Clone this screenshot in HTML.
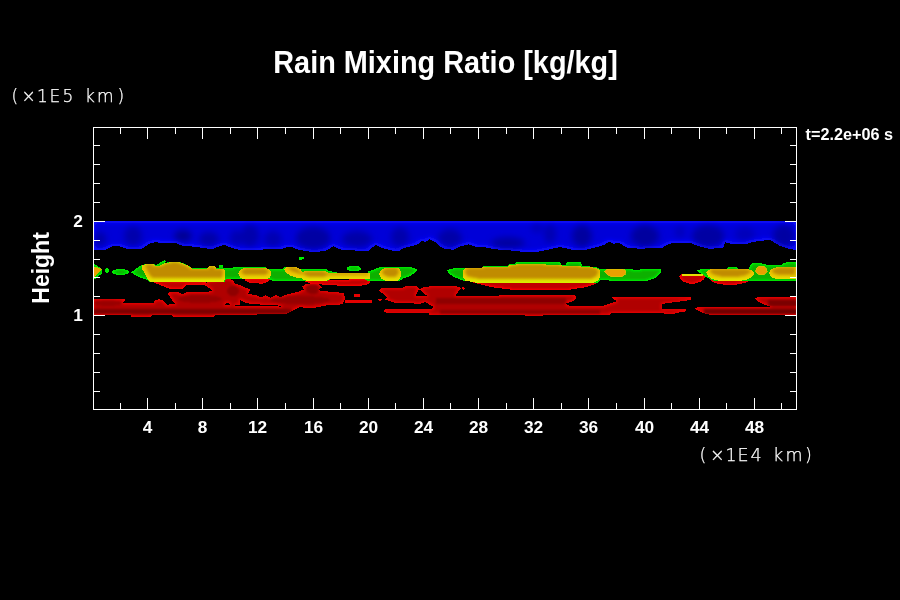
<!DOCTYPE html>
<html lang="en"><head><meta charset="utf-8"><title>Rain Mixing Ratio [kg/kg]</title>
<style>
html,body{margin:0;padding:0;background:#000;overflow:hidden}
svg{display:block}
text{font-family:"Liberation Sans",Arial,Helvetica,sans-serif;fill:#fff}
.b{font-weight:bold}
.h{font-family:"DejaVu Sans Light","DejaVu Sans","Liberation Sans",sans-serif;font-weight:200;fill:#fff;stroke:#fff;stroke-width:.25px}
</style></head><body>
<svg width="900" height="600" viewBox="0 0 900 600">
<defs>
<clipPath id="plot"><rect x="93" y="127" width="704" height="283"/></clipPath>
<clipPath id="cred"><polygon points="93,298.7 125.3,298.7 125.3,300.7 122,303 153.7,303 155,300.5 159,299.3 163,300 165.3,303 167,305 170,304 300.3,307 285.3,314.3 215.3,314.8 214,317 173,317 172,314.8 152,314.8 151,316.5 131,316.5 130.3,314.8 93,314.8"/>
<polygon points="167.8,294 169,292.3 178.7,292.3 183,294.3 187,292 208,292 212.7,290.4 203.8,284.6 208.4,281.4 225.5,278.5 226.5,277.5 233.3,280.7 235,283.8 239.5,285 245.8,287.7 250.8,290 247.3,293.9 244.9,294.5 248.5,293.9 255.9,295.1 260.8,297.6 265.7,295.1 270.6,297.6 275.5,295.1 280.3,297 285.2,295.1 291.3,293.3 297.5,292.1 303.6,289.6 302.3,286.6 306.6,283.5 318.2,283.5 321.9,287.2 318.2,290.2 325.6,291.4 337.8,292 340,293.3 343.9,292.7 345.1,298.8 342.7,304.3 325.6,305.5 313.3,308 298.7,307.3 281.6,306.7 275.5,304.9 252.2,304.3 244.9,302.4 240.3,300 240,305 230.2,305 228,302.4 224,305 176,305 172,300"/>
<polygon points="345,300 372,300 372,303 345,303"/>
<polygon points="353.7,294 360.3,294 360.3,296.5 353.7,296.5"/>
<polygon points="384.2,310.2 386,309.2 431,309.2 431,312.8 386,312.8 384.5,311.6"/>
<polygon points="378,299.5 380,298.3 382.5,299.5 380,301.1"/>
<polygon points="379.2,290.6 382,288 403,287.6 405.3,286.4 416.4,286.4 419.2,288.9 416.4,293.9 416,296.5 424,296.3 430,295.7 575.3,295.3 576,298 573,301 566,303.5 569,305.7 604,305.5 607.8,304.4 616.7,301.1 613,299 611.7,297.2 691,296.9 691,299.5 686,300.8 677.8,301.7 662,303.9 661.7,309.1 684.4,309 686.7,310 684.4,311.7 676.7,312.8 673.3,314.4 666.7,314.4 662,312.8 612,312.5 610,314.8 545,314.8 542,315.7 530,315.7 510,315 429,314.8 429,313 433.1,306.7 425.3,302.2 420.9,303.6 397.6,303.3 393.1,302.2 384.2,299.4 387.6,297.8"/>
<polygon points="419.5,289.5 424,287 430,286.4 456,286.4 459,287 460.9,288.3 458.5,291.5 456.4,294.4 455.5,296 428,296 424.2,293.9"/>
<polygon points="461.4,288.3 463,286.7 464.8,288.3 463,290"/>
<polygon points="754.5,298.7 758,297.2 797,297 797,306.5 770,306.5 764,304.5 758,301.5"/>
<polygon points="695,308.2 698,307.2 797,307 797,314.8 710,314.8 703,313 697,310"/></clipPath>
<clipPath id="cblue"><polygon points="93,220.8 797,220.8 797,250.7 792,249.3 787,248.2 780.3,246 775.3,243.2 770.3,239.8 762,240.7 752,242 745.3,244.3 730.3,243.7 725.3,242.3 722.8,248.2 708.7,248.7 703.7,247.3 697,245.7 692,243.5 673.7,242.7 667,244.8 662,248.2 657,247.7 650.3,248.2 642,248.7 628.7,248.2 623.7,245.7 618.7,242.7 613.7,243.7 609.5,241.5 605.3,244.3 598.7,246.5 592,248.2 585.3,249.8 572,249.8 565.3,248.2 560.3,247 552,248.7 547,250.3 542,250.6 537,252.3 525.3,252 508.7,250.3 495.3,249.3 485.3,247.3 475.3,246.5 468.7,244.3 460.3,246.5 453.7,249.8 445.3,249 438.7,245.7 434.5,241.5 429.5,239.3 425.3,242.3 422,240.7 417,244.8 410.3,246.5 403.7,248.2 398.7,251 392,250.5 387,249.3 380.3,247.3 375.3,244.8 373.7,246.5 368.7,250.7 358.7,250.7 342,249.8 337,248.2 333.3,246 330.3,248.2 325.3,250.7 317,252 308.7,251.5 297,249.3 292,247.3 287,247 282,249 263.7,249.3 260.3,250.3 242,250 237,249.3 230.3,247.3 223.7,244.8 218.7,246.5 212,249.3 205.3,248.2 192,246.5 182,245.7 175.3,242.7 168.7,243.2 155.3,242.3 150.3,243.2 145.3,246.5 140.3,249.3 127,249 120.3,246.5 113.7,245.7 108.7,248.2 103.7,250.3 93,250.3"/></clipPath>
<filter id="fblue" x="-2%" y="-20%" width="104%" height="140%">
<feMorphology in="SourceAlpha" operator="erode" radius="2" result="e"/>
<feGaussianBlur in="e" stdDeviation="2" result="b"/>
<feFlood flood-color="#0000d8"/><feComposite in2="b" operator="in" result="d"/>
<feComposite in="d" in2="SourceAlpha" operator="in" result="d2"/>
<feMerge><feMergeNode in="SourceGraphic"/><feMergeNode in="d2"/></feMerge>
</filter>
<filter id="fyel" x="-2%" y="-20%" width="104%" height="140%">
<feMorphology in="SourceAlpha" operator="erode" radius="2" result="e"/>
<feGaussianBlur in="e" stdDeviation="1.8" result="b0"/><feOffset in="b0" dy="-1.6" result="b"/>
<feFlood flood-color="#c08c00"/><feComposite in2="b" operator="in" result="d"/>
<feComposite in="d" in2="SourceAlpha" operator="in" result="d2"/>
<feMerge><feMergeNode in="SourceGraphic"/><feMergeNode in="d2"/></feMerge>
</filter>
<filter id="fred" x="-2%" y="-20%" width="104%" height="140%">
<feMorphology in="SourceAlpha" operator="erode" radius="1.2" result="e"/>
<feGaussianBlur in="e" stdDeviation="1.5" result="b"/>
<feFlood flood-color="#b00000"/><feComposite in2="b" operator="in" result="d"/>
<feComposite in="d" in2="SourceAlpha" operator="in" result="d2"/>
<feMerge><feMergeNode in="SourceGraphic"/><feMergeNode in="d2"/></feMerge>
</filter>
<filter id="fgrn" x="-2%" y="-20%" width="104%" height="140%">
<feMorphology in="SourceAlpha" operator="erode" radius="1" result="e"/>
<feGaussianBlur in="e" stdDeviation="1.3" result="b"/>
<feFlood flood-color="#08b000"/><feComposite in2="b" operator="in" result="d"/>
<feComposite in="d" in2="SourceAlpha" operator="in" result="d2"/>
<feMerge><feMergeNode in="SourceGraphic"/><feMergeNode in="d2"/></feMerge>
</filter>
<filter id="fredhi" x="-2%" y="-20%" width="104%" height="140%">
<feMorphology in="SourceAlpha" operator="erode" radius="1" result="e"/>
<feGaussianBlur in="e" stdDeviation="1.2" result="b"/>
<feFlood flood-color="#c00000"/><feComposite in2="b" operator="in" result="d"/>
<feComposite in="d" in2="SourceAlpha" operator="in" result="d2"/>
<feMerge><feMergeNode in="SourceGraphic"/><feMergeNode in="d2"/></feMerge>
</filter>
<linearGradient id="gy" gradientUnits="userSpaceOnUse" x1="0" y1="262" x2="0" y2="283">
<stop offset="0" stop-color="#d8e000"/><stop offset="0.35" stop-color="#f0bc00"/><stop offset="0.7" stop-color="#e8d000"/><stop offset="0.9" stop-color="#e0e800"/><stop offset="1" stop-color="#d0f400"/>
</linearGradient>
<filter id="blur1"><feGaussianBlur stdDeviation="1.2"/></filter>
<filter id="blur3"><feGaussianBlur stdDeviation="3"/></filter>
</defs>
<rect width="900" height="600" fill="#000"/>
<g clip-path="url(#plot)" shape-rendering="crispEdges">
<g fill="#1414ff" filter="url(#fblue)"><polygon points="93,220.8 797,220.8 797,250.7 792,249.3 787,248.2 780.3,246 775.3,243.2 770.3,239.8 762,240.7 752,242 745.3,244.3 730.3,243.7 725.3,242.3 722.8,248.2 708.7,248.7 703.7,247.3 697,245.7 692,243.5 673.7,242.7 667,244.8 662,248.2 657,247.7 650.3,248.2 642,248.7 628.7,248.2 623.7,245.7 618.7,242.7 613.7,243.7 609.5,241.5 605.3,244.3 598.7,246.5 592,248.2 585.3,249.8 572,249.8 565.3,248.2 560.3,247 552,248.7 547,250.3 542,250.6 537,252.3 525.3,252 508.7,250.3 495.3,249.3 485.3,247.3 475.3,246.5 468.7,244.3 460.3,246.5 453.7,249.8 445.3,249 438.7,245.7 434.5,241.5 429.5,239.3 425.3,242.3 422,240.7 417,244.8 410.3,246.5 403.7,248.2 398.7,251 392,250.5 387,249.3 380.3,247.3 375.3,244.8 373.7,246.5 368.7,250.7 358.7,250.7 342,249.8 337,248.2 333.3,246 330.3,248.2 325.3,250.7 317,252 308.7,251.5 297,249.3 292,247.3 287,247 282,249 263.7,249.3 260.3,250.3 242,250 237,249.3 230.3,247.3 223.7,244.8 218.7,246.5 212,249.3 205.3,248.2 192,246.5 182,245.7 175.3,242.7 168.7,243.2 155.3,242.3 150.3,243.2 145.3,246.5 140.3,249.3 127,249 120.3,246.5 113.7,245.7 108.7,248.2 103.7,250.3 93,250.3"/></g>
<g clip-path="url(#cblue)"><g filter="url(#blur3)" fill="#000078">
<ellipse cx="100" cy="239" rx="6" ry="7" opacity="0.5"/><ellipse cx="133" cy="236" rx="9" ry="10" opacity="0.45"/><ellipse cx="183" cy="236" rx="9" ry="6" opacity="0.7"/><ellipse cx="209" cy="239" rx="10" ry="7" opacity="0.5"/><ellipse cx="236" cy="238" rx="6" ry="8" opacity="0.4"/><ellipse cx="250" cy="236" rx="9" ry="11" opacity="0.45"/><ellipse cx="273" cy="239" rx="9" ry="8" opacity="0.4"/><ellipse cx="313" cy="238" rx="17" ry="11" opacity="0.55"/><ellipse cx="357" cy="239" rx="15" ry="8" opacity="0.5"/><ellipse cx="400" cy="237" rx="9" ry="10" opacity="0.45"/><ellipse cx="450" cy="238" rx="12" ry="9" opacity="0.5"/><ellipse cx="508" cy="243" rx="17" ry="6" opacity="0.55"/><ellipse cx="537" cy="228" rx="6" ry="5" opacity="0.3"/><ellipse cx="550" cy="234" rx="6" ry="10" opacity="0.4"/><ellipse cx="582" cy="236" rx="10" ry="11" opacity="0.6"/><ellipse cx="645" cy="236" rx="14" ry="11" opacity="0.6"/><ellipse cx="680" cy="232" rx="5" ry="6" opacity="0.3"/><ellipse cx="708" cy="236" rx="16" ry="11" opacity="0.55"/><ellipse cx="745" cy="234" rx="10" ry="7" opacity="0.3"/><ellipse cx="784" cy="236" rx="11" ry="11" opacity="0.55"/>
</g></g>
<g fill="#f00000" filter="url(#fred)">
<polygon points="93,298.7 125.3,298.7 125.3,300.7 122,303 153.7,303 155,300.5 159,299.3 163,300 165.3,303 167,305 170,304 300.3,307 285.3,314.3 215.3,314.8 214,317 173,317 172,314.8 152,314.8 151,316.5 131,316.5 130.3,314.8 93,314.8"/>
<polygon points="167.8,294 169,292.3 178.7,292.3 183,294.3 187,292 208,292 212.7,290.4 203.8,284.6 208.4,281.4 225.5,278.5 226.5,277.5 233.3,280.7 235,283.8 239.5,285 245.8,287.7 250.8,290 247.3,293.9 244.9,294.5 248.5,293.9 255.9,295.1 260.8,297.6 265.7,295.1 270.6,297.6 275.5,295.1 280.3,297 285.2,295.1 291.3,293.3 297.5,292.1 303.6,289.6 302.3,286.6 306.6,283.5 318.2,283.5 321.9,287.2 318.2,290.2 325.6,291.4 337.8,292 340,293.3 343.9,292.7 345.1,298.8 342.7,304.3 325.6,305.5 313.3,308 298.7,307.3 281.6,306.7 275.5,304.9 252.2,304.3 244.9,302.4 240.3,300 240,305 230.2,305 228,302.4 224,305 176,305 172,300"/>
<polygon points="345,300 372,300 372,303 345,303"/>
<polygon points="353.7,294 360.3,294 360.3,296.5 353.7,296.5"/>
<polygon points="384.2,310.2 386,309.2 431,309.2 431,312.8 386,312.8 384.5,311.6"/>
<polygon points="378,299.5 380,298.3 382.5,299.5 380,301.1"/>
<polygon points="379.2,290.6 382,288 403,287.6 405.3,286.4 416.4,286.4 419.2,288.9 416.4,293.9 416,296.5 424,296.3 430,295.7 575.3,295.3 576,298 573,301 566,303.5 569,305.7 604,305.5 607.8,304.4 616.7,301.1 613,299 611.7,297.2 691,296.9 691,299.5 686,300.8 677.8,301.7 662,303.9 661.7,309.1 684.4,309 686.7,310 684.4,311.7 676.7,312.8 673.3,314.4 666.7,314.4 662,312.8 612,312.5 610,314.8 545,314.8 542,315.7 530,315.7 510,315 429,314.8 429,313 433.1,306.7 425.3,302.2 420.9,303.6 397.6,303.3 393.1,302.2 384.2,299.4 387.6,297.8"/>
<polygon points="419.5,289.5 424,287 430,286.4 456,286.4 459,287 460.9,288.3 458.5,291.5 456.4,294.4 455.5,296 428,296 424.2,293.9"/>
<polygon points="461.4,288.3 463,286.7 464.8,288.3 463,290"/>
<polygon points="754.5,298.7 758,297.2 797,297 797,306.5 770,306.5 764,304.5 758,301.5"/>
<polygon points="695,308.2 698,307.2 797,307 797,314.8 710,314.8 703,313 697,310"/>
</g>
<g clip-path="url(#cred)"><g filter="url(#blur1)" fill="#6e0000">
<rect x="80" y="308.6" width="212" height="5" opacity=".75"/>
<rect x="704" y="308.8" width="110" height="5" opacity=".95"/>
<rect x="768" y="299.5" width="40" height="6.5" opacity=".8"/>
<rect x="436" y="297.5" width="130" height="6" opacity=".5"/>
<rect x="440" y="309.5" width="160" height="4" opacity=".55"/>
<ellipse cx="313" cy="289" rx="7" ry="5" opacity=".55"/>
<ellipse cx="300" cy="300" rx="30" ry="4" opacity=".4"/>
<ellipse cx="200" cy="299" rx="22" ry="4" opacity=".4"/>
<ellipse cx="233" cy="291" rx="6" ry="5" opacity=".5"/>
<ellipse cx="108" cy="303" rx="14" ry="3" opacity=".35"/>
</g></g>
<g fill="#ff0000" filter="url(#fredhi)">
<polygon points="150.3,281 208.4,281 203.8,284.6 187,284.8 182,289.5 168.7,288.5"/>
<polygon points="245,279 270.3,279 268,282 262,283.7 250,283 245,280.5"/>
<polygon points="305,280.5 370.3,279 370,283 366,285.2 355,286 338,286 334,284.5 322,284.5 310,283.5 305,281.5"/>
<polygon points="472,282.3 492,287.3 512,289.8 568.7,289.8 585.3,287.3 595.3,284 600.3,280.7 600,279 472,279"/>
<polygon points="708.5,277 752,277 750,280.5 745,283 736,284.6 724,284.6 716,283.3 711,281"/>
<polygon points="679,276.5 680.5,274.6 683,273.9 702,273.9 704,274.8 705,277 703.5,279.8 700,282 695,283.5 689,283.5 684,282 680.5,279.5"/>

</g>
<g fill="#00f400" filter="url(#fgrn)">
<polygon points="131.2,272.3 135,269.5 140.3,265.7 147,263.7 153,263.5 156.5,265.3 160,262.5 164.5,260.2 166.2,261.6 164,263.2 170,262 179.5,262 184,263.5 188.7,265.7 192,268 207,268.2 209,266 215,266 216.5,268.2 218.7,267.5 219,265.3 222.8,265.3 223.5,267.8 226,268.2 233,267.5 242,267.3 266,267.3 268,269 283,269 284.5,267.3 296,267.3 300,269 308,269 310,268.5 326,269 329,271 340,273 368,273 368,271.5 375,269 380,267.3 400,267.3 412,267.5 417,269 417,270.5 415,273 410,276 404,278 400,280.7 367,280.7 365,279.2 330,279.2 328,280.7 272,280.7 270,279.5 226,279 224.5,282 150.3,282 146,279.5 142,278.2 136,275.5"/>
<polygon points="447,270.7 449,269.2 455,268.2 462,267.7 482,267.7 483,266 508,266 509,264 515,264 516,262.3 560,262.3 561,264.5 566,264.5 567,262.3 581,262.3 582,266 590,266.5 597,267.5 600,269.3 632,269.3 636,270.5 640,269.5 655,269.2 661,269.5 661,272 659,274 655,278 648,280.7 610,280.7 601,279.5 598,282.5 478,283.2 470,281.5 463,280.7 455,277.5 450,274.5"/>
<polygon points="697,270.7 700,269.3 726,269 728,267.3 737,267.3 739,269 749,269 750,265 753,263.2 760,263 766,264.5 768,265.3 782,265.3 783,263.5 787,262.3 797,262.3 797,280.7 713.7,280.7 708,278 702,274.5"/>
<polygon points="93,264 95,264.2 97,265.5 99.5,267.5 102,269.3 102.2,273 100,275 97,277 95.5,279 93,279"/>
<polygon points="298.7,256.5 304,256.5 304,258.5 302,258.5 302,259.8 299.5,259.8"/>
<ellipse cx="107" cy="270.5" rx="2.1" ry="2.4"/>
<ellipse cx="120.6" cy="272" rx="8.4" ry="3"/>
<ellipse cx="354" cy="268.6" rx="7" ry="2.9"/>
</g>
<g fill="url(#gy)" filter="url(#fyel)">
<polygon points="141.5,265 147,264.3 153.5,264.5 157,266.5 161,265 164,263.3 170,262.3 179.5,262.3 184,263.8 188.7,266 192,268.5 207,268.7 209,266.3 215,266.3 216.5,268.7 224,269 225.3,271 225.5,277 224,281.8 150.5,281.8 147,278 144,272 141.5,268"/>
<polygon points="238.5,273.5 240,270 244,267.7 266,267.7 270,270 271.5,273.5 270,277.5 266,279.3 244,279.3 240,277.5"/>
<polygon points="284,269.5 286,267.5 297,267.3 300.5,269 302,272 302,277.6 296,277.6 290,275.5 286,272.5"/>
<polygon points="300,276 302,272.5 306,270.8 325,270.8 328.7,273 370,273.3 370.3,279 330,279 327,280.7 306,280.7 302,279"/>
<polygon points="379,274 381,270 385,267.8 396,267.5 400,269 401,273 400.3,278 398,280.7 385,280.7 381,278.5"/>
<polygon points="463,270 465,268.5 482,268.3 483,266.5 508,266.5 510,265 516,264.5 518,264 542,264.3 560,265.3 567,266 581,266.5 590,267 597,268.2 600.3,271 600.5,277 598,280.5 594,282.5 590,283.2 478.7,283.2 470,281.5 465.3,280.7 462.5,276"/>
<polygon points="769,273 771,269.5 776,267.3 797,267 797,279 776,279 771,277"/>
<polygon points="706,272.2 708,270 711,269.2 747,269.2 751,270 753.5,271.5 754,274 752,277 748,279.3 742,280.6 730,281 718,280.6 712,279 708.5,276.5"/>

</g>
<rect x="682" y="273.8" width="21" height="1.7" fill="#e4e000"/>
<g fill="#e8a000" stroke="#d8c000" stroke-width="0.8">
<polygon points="93,267.2 94.5,267.3 101.3,269.3 94.5,276.6 93,276.8"/>
<polygon points="604.2,271.7 607,269.5 612,269.2 622,269.2 625,270 626,272 625,274.5 622,276.5 612,276.8 608,275 606,273.5"/>
<ellipse cx="761.4" cy="270.5" rx="5.6" ry="4.4"/>
</g>
</g>
<rect x="93.5" y="127.5" width="703" height="282" fill="none" stroke="#fff" stroke-width="1" shape-rendering="crispEdges"/>
<path d="M120.5 409V403M120.5 128V134 M147.5 409V398M147.5 128V139 M175.5 409V403M175.5 128V134 M202.5 409V398M202.5 128V139 M230.5 409V403M230.5 128V134 M257.5 409V398M257.5 128V139 M285.5 409V403M285.5 128V134 M313.5 409V398M313.5 128V139 M340.5 409V403M340.5 128V134 M368.5 409V398M368.5 128V139 M395.5 409V403M395.5 128V134 M423.5 409V398M423.5 128V139 M450.5 409V403M450.5 128V134 M478.5 409V398M478.5 128V139 M506.5 409V403M506.5 128V134 M533.5 409V398M533.5 128V139 M561.5 409V403M561.5 128V134 M588.5 409V398M588.5 128V139 M616.5 409V403M616.5 128V134 M644.5 409V398M644.5 128V139 M671.5 409V403M671.5 128V134 M699.5 409V398M699.5 128V139 M726.5 409V403M726.5 128V134 M754.5 409V398M754.5 128V139 M781.5 409V403M781.5 128V134 M94 145.5H100M796 145.5H790 M94 164.5H100M796 164.5H790 M94 183.5H100M796 183.5H790 M94 202.5H100M796 202.5H790 M94 240.5H100M796 240.5H790 M94 259.5H100M796 259.5H790 M94 277.5H100M796 277.5H790 M94 296.5H100M796 296.5H790 M94 334.5H100M796 334.5H790 M94 353.5H100M796 353.5H790 M94 372.5H100M796 372.5H790 M94 391.5H100M796 391.5H790 M94 221.5H105M796 221.5H785 M94 315.5H105M796 315.5H785" stroke="#fff" stroke-width="1" fill="none" shape-rendering="crispEdges"/>
<text class="b" x="273.3" y="73" font-size="31" textLength="344.5" lengthAdjust="spacingAndGlyphs">Rain Mixing Ratio [kg/kg]</text>
<text class="b" transform="translate(49 303.7) rotate(-90)" font-size="24.5" textLength="71.5" lengthAdjust="spacingAndGlyphs">Height</text>
<g class="b" font-size="16" text-anchor="middle">
<text x="147.5" y="433" textLength="9.6" lengthAdjust="spacingAndGlyphs">4</text>
<text x="202.5" y="433" textLength="9.6" lengthAdjust="spacingAndGlyphs">8</text>
<text x="257.5" y="433" textLength="19.2" lengthAdjust="spacingAndGlyphs">12</text>
<text x="313.5" y="433" textLength="19.2" lengthAdjust="spacingAndGlyphs">16</text>
<text x="368.5" y="433" textLength="19.2" lengthAdjust="spacingAndGlyphs">20</text>
<text x="423.5" y="433" textLength="19.2" lengthAdjust="spacingAndGlyphs">24</text>
<text x="478.5" y="433" textLength="19.2" lengthAdjust="spacingAndGlyphs">28</text>
<text x="533.5" y="433" textLength="19.2" lengthAdjust="spacingAndGlyphs">32</text>
<text x="588.5" y="433" textLength="19.2" lengthAdjust="spacingAndGlyphs">36</text>
<text x="644.5" y="433" textLength="19.2" lengthAdjust="spacingAndGlyphs">40</text>
<text x="699.5" y="433" textLength="19.2" lengthAdjust="spacingAndGlyphs">44</text>
<text x="754.5" y="433" textLength="19.2" lengthAdjust="spacingAndGlyphs">48</text>
</g>
<g class="b" font-size="16" text-anchor="end">
<text x="82.8" y="226.8" textLength="9.6" lengthAdjust="spacingAndGlyphs">2</text>
<text x="82.8" y="320.8" textLength="9.6" lengthAdjust="spacingAndGlyphs">1</text>
</g>
<text class="b" x="805.6" y="139.8" font-size="16" textLength="87.5" lengthAdjust="spacingAndGlyphs">t=2.2e+06 s</text>
<text class="h" y="101.7" font-size="17" x="11.5 21.5 37 49.5 62.5 75 85 97 117.5">(×1E5 km)</text>
<text class="h" y="460.8" font-size="17.5" x="699.5 710 725.5 737.5 750.5 763 773 785.5 805">(×1E4 km)</text>
</svg>
</body></html>
